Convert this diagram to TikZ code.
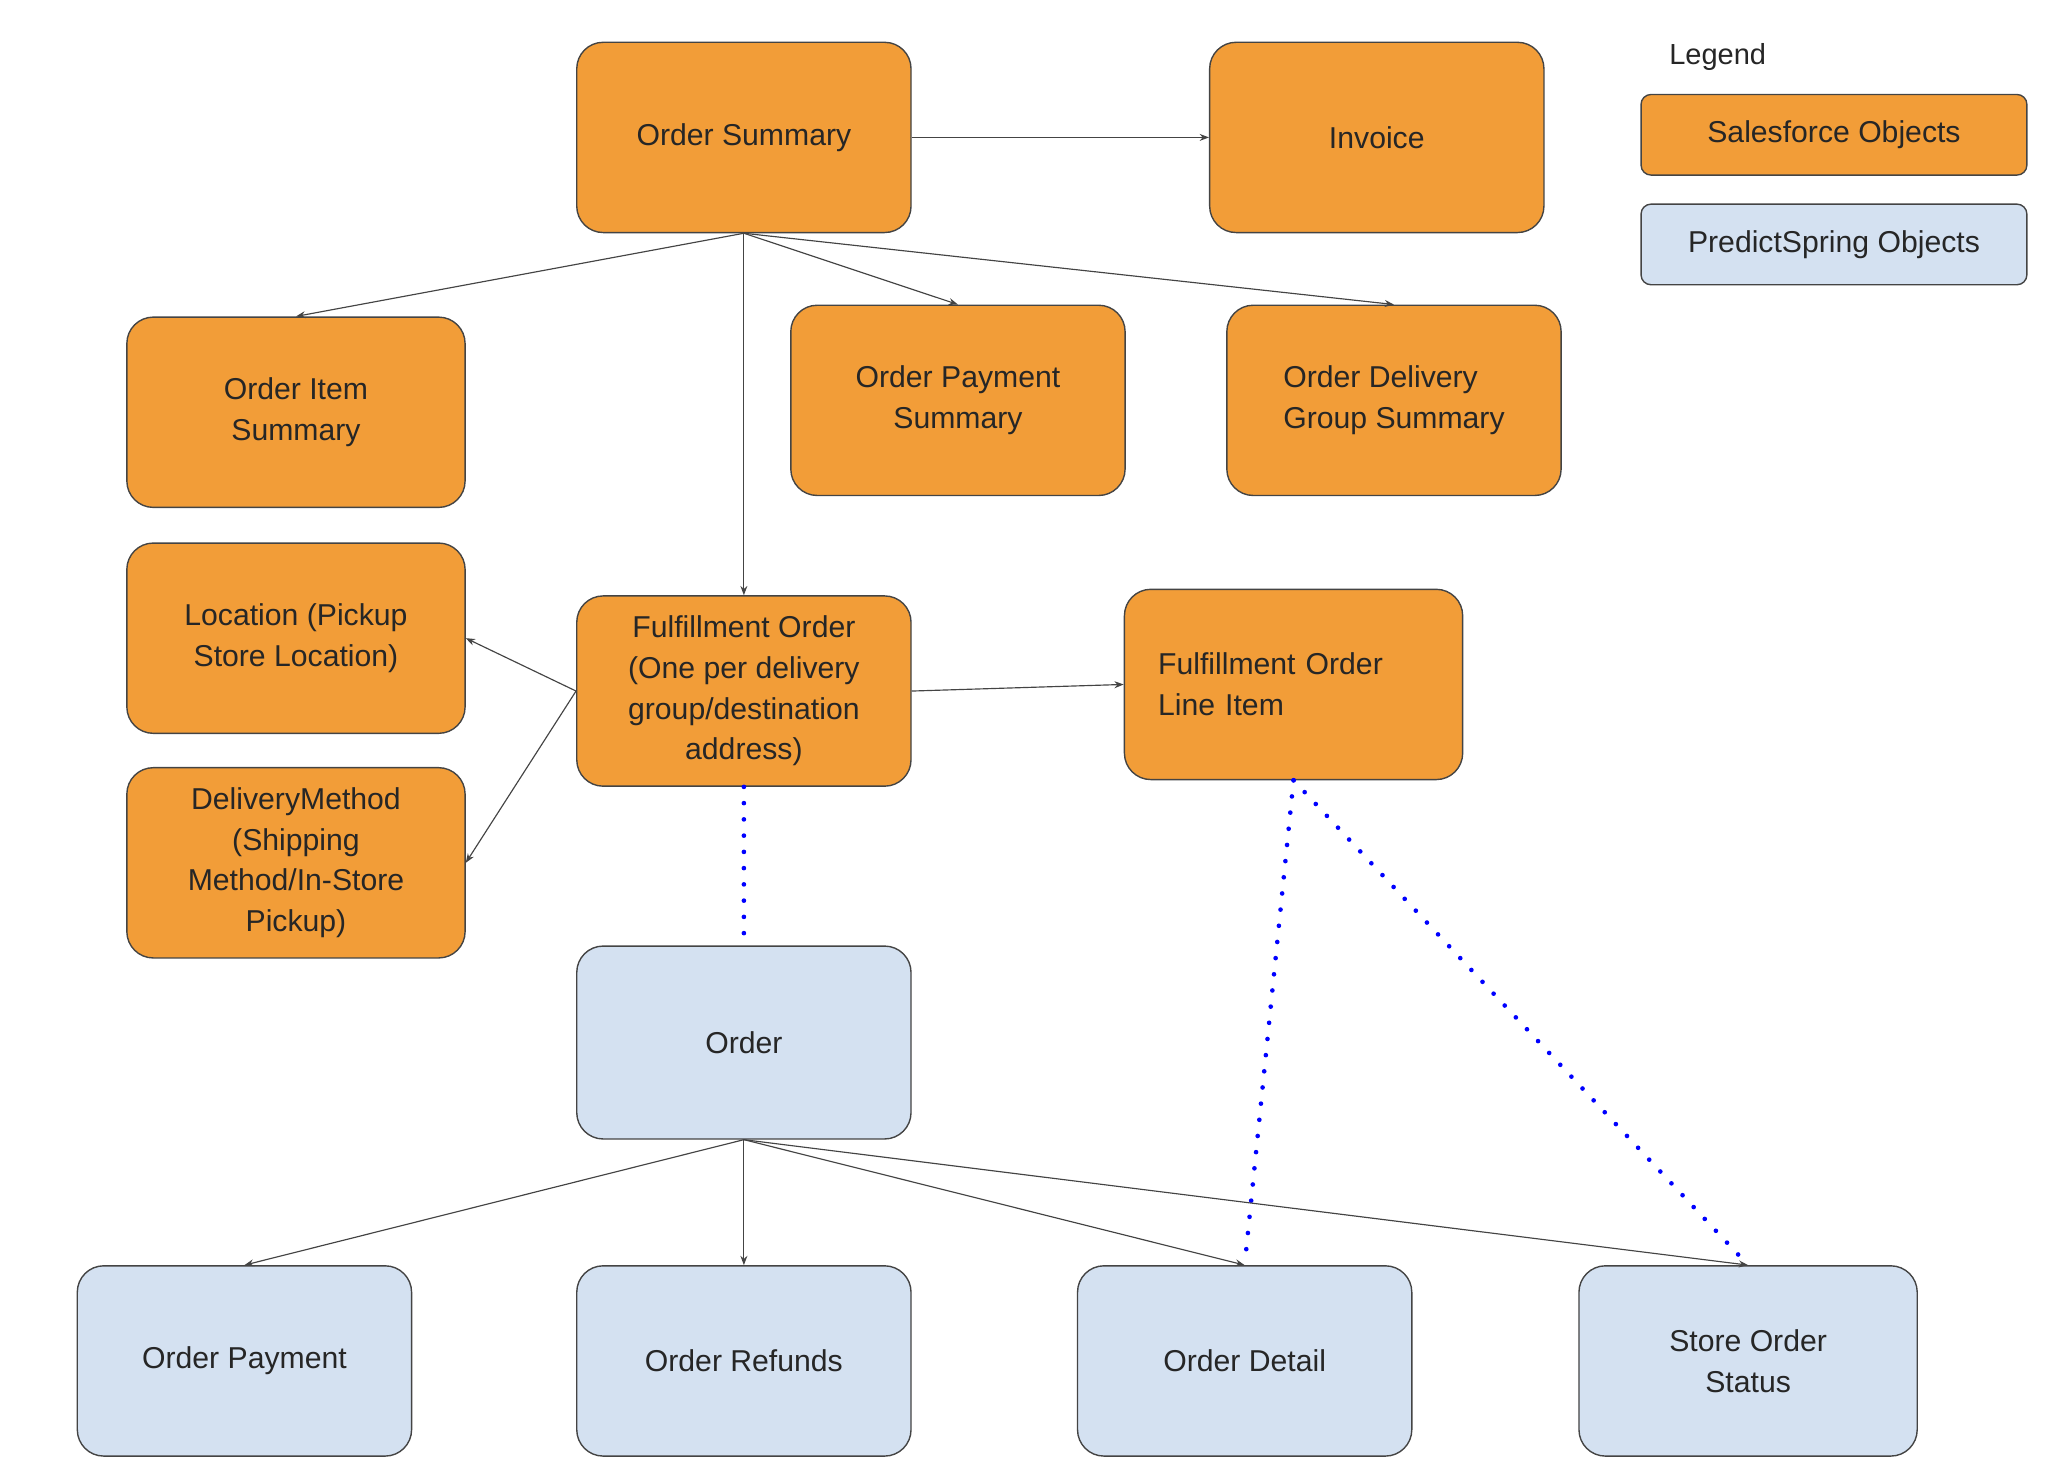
\documentclass[tikz,border=0pt]{standalone}
\usepackage{fontspec}
\setmainfont{Liberation Sans}
\usetikzlibrary{arrows.meta}
\definecolor{sf}{HTML}{F29D38}
\definecolor{ps}{HTML}{D4E1F1}
\definecolor{bd}{HTML}{444444}
\begin{document}
\begin{tikzpicture}[x=0.02cm,y=-0.02cm,
 box/.style={draw=bd,line width=0.6pt,rounded corners=0.4cm,minimum width=253*0.02cm,minimum height=144*0.02cm,align=center,font=\fontsize{13}{17.5}\selectfont,text=black!85,inner sep=2pt},
 sfb/.style={box,fill=sf},
 psb/.style={box,fill=ps},
 arr/.style={-{Stealth[length=4pt,width=3pt]},line width=0.5pt,draw=bd},
 dot/.style={blue,line width=2pt,dash pattern=on 0pt off 7pt,line cap=round}]
\useasboundingbox (0,0) rectangle (1550,1123);
\node[sfb] (os) at (563,104) {Order Summary};
\node[sfb] (inv) at (1042,104) {Invoice};
\node[font=\fontsize{12.5}{15}\selectfont,text=black!85] (leg) at (1300,43) {Legend};
\node[sfb,minimum width=292*0.02cm,minimum height=61*0.02cm,rounded corners=0.15cm] (l1) at (1388,102) {Salesforce Objects};
\node[psb,minimum width=292*0.02cm,minimum height=61*0.02cm,rounded corners=0.15cm] (l2) at (1388,185) {PredictSpring Objects};
\node[sfb,minimum width=256*0.02cm] (ois) at (224,312) {Order Item\\Summary};
\node[sfb] (ops) at (725,303) {Order Payment\\Summary};
\node[sfb,align=left] (odgs) at (1055,303) {Order Delivery\\Group Summary};
\node[sfb,minimum width=256*0.02cm] (loc) at (224,483) {Location (Pickup\\Store Location)};
\node[sfb] (fo) at (563,523) {Fulfillment Order\\(One per delivery\\group/destination\\address)};
\node[sfb,align=left,minimum width=256*0.02cm,text width=205*0.02cm] (foli) at (979,518) {Fulfillment Order\\Line Item};
\node[sfb,minimum width=256*0.02cm] (dm) at (224,653) {DeliveryMethod\\(Shipping\\Method/In-Store\\Pickup)};
\node[psb,minimum height=146*0.02cm] (ord) at (563,789) {Order};
\node[psb] (op) at (185,1030) {Order Payment};
\node[psb] (orf) at (563,1030) {Order Refunds};
\node[psb] (od) at (942,1030) {Order Detail};
\node[psb,minimum width=256*0.02cm] (sos) at (1323,1030) {Store Order\\Status};
\draw[arr] (os.east) -- (inv.west);
\draw[arr] (os.south) -- (ois.north);
\draw[arr] (os.south) -- (ops.north);
\draw[arr] (os.south) -- (odgs.north);
\draw[arr] (os.south) -- (fo.north);
\draw[arr] (fo.west) -- (loc.east);
\draw[arr] (fo.west) -- (dm.east);
\draw[arr] (fo.east) -- (foli.west);
\draw[dot] (fo.south) -- (ord.north);
\draw[dot] (foli.south) -- (od.north);
\draw[dot] (foli.south) -- (sos.north);
\draw[arr] (ord.south) -- (op.north);
\draw[arr] (ord.south) -- (orf.north);
\draw[arr] (ord.south) -- (od.north);
\draw[arr] (ord.south) -- (sos.north);
\end{tikzpicture}
\end{document}
